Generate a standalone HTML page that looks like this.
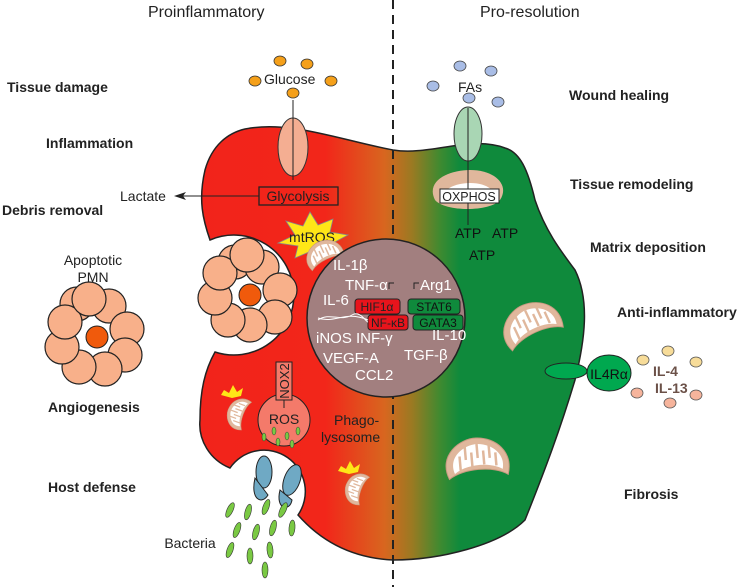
<!DOCTYPE html>
<html><head><meta charset="utf-8"><style>
html,body{margin:0;padding:0;background:#fff;}
svg{display:block;font-family:"Liberation Sans",Arial,sans-serif;}
.b{font-weight:bold;font-size:14px;fill:#222;}
.w{fill:#fff;font-size:15px;}
</style></head><body>
<svg width="754" height="587" viewBox="0 0 754 587" xmlns="http://www.w3.org/2000/svg">
<defs>
<linearGradient id="g" x1="0" x2="1" y1="0" y2="0" gradientUnits="userSpaceOnUse" x1a="0">
</linearGradient>
<linearGradient id="cg" gradientUnits="userSpaceOnUse" x1="195" y1="0" x2="590" y2="0">
<stop offset="0" stop-color="#f2231b"/>
<stop offset="0.33" stop-color="#f2261a"/>
<stop offset="0.48" stop-color="#d8661f"/>
<stop offset="0.55" stop-color="#9a7a22"/>
<stop offset="0.62" stop-color="#3f8a30"/>
<stop offset="0.67" stop-color="#0f8a3c"/>
<stop offset="1" stop-color="#0f8a3c"/>
</linearGradient>
<g id="mito">
<path d="M4,40 C-6,15 18,0 34,1 C54,2 70,18 63,40 C50,30 18,30 4,40Z" fill="#e0b79c" stroke="#c89a80" stroke-width="1"/>
<path d="M10,35 C4,17 22,7 34,7 C50,8 62,20 58,34 C46,26 22,26 10,35Z" fill="#fff"/>
<g stroke="#e0b79c" stroke-width="2.5">
<line x1="16" y1="32" x2="16" y2="18"/><line x1="22" y1="8" x2="22" y2="22"/>
<line x1="28" y1="29" x2="28" y2="15"/><line x1="34" y1="7" x2="34" y2="21"/>
<line x1="40" y1="28" x2="40" y2="14"/><line x1="46" y1="9" x2="46" y2="22"/>
<line x1="52" y1="30" x2="52" y2="17"/>
</g>
</g>
<g id="cell">
<circle r="17" fill="#f8b08a" stroke="#222" stroke-width="1.2"/>
</g>
</defs>

<!-- headers -->
<text x="148" y="17" font-size="16" fill="#222">Proinflammatory</text>
<text x="480" y="17" font-size="16" fill="#222">Pro-resolution</text>

<!-- left labels -->
<text class="b" x="7" y="92">Tissue damage</text>
<text class="b" x="46" y="148">Inflammation</text>
<text class="b" x="2" y="215">Debris removal</text>
<text class="b" x="48" y="412">Angiogenesis</text>
<text class="b" x="48" y="492">Host defense</text>
<text x="93" y="265" font-size="14" fill="#222" text-anchor="middle">Apoptotic</text>
<text x="93" y="282" font-size="14" fill="#222" text-anchor="middle">PMN</text>
<text x="190" y="548" font-size="14" fill="#222" text-anchor="middle">Bacteria</text>

<!-- right labels -->
<text class="b" x="569" y="100">Wound healing</text>
<text class="b" x="570" y="189">Tissue remodeling</text>
<text class="b" x="590" y="252">Matrix deposition</text>
<text class="b" x="617" y="317">Anti-inflammatory</text>
<text class="b" x="624" y="499">Fibrosis</text>

<!-- cell body -->
<path d="M245,129 C290,120 340,140 393,150 C430,156 470,135 505,148 C520,152 528,170 535,200 C545,230 560,250 575,270 C590,300 585,340 575,380 C560,430 545,470 525,520 C500,545 440,560 393,560 C350,558 320,540 298,515 A36,36 0 0 0 230,468 C210,460 198,440 200,420 C200,390 205,370 215,352 A60,60 0 1 0 210,240 C203,220 198,200 205,170 C212,145 228,133 245,129Z" fill="url(#cg)" stroke="#222" stroke-width="1.5"/>

<!-- dashed line -->
<line x1="393" y1="0" x2="393" y2="587" stroke="#222" stroke-width="2" stroke-dasharray="9,6"/>

<!-- apoptotic PMN outside -->
<g transform="translate(97,337)">
<use href="#cell" x="-20" y="-33"/><use href="#cell" x="12" y="-31"/><use href="#cell" x="30" y="-8"/>
<use href="#cell" x="28" y="18"/><use href="#cell" x="8" y="32"/><use href="#cell" x="-18" y="30"/>
<use href="#cell" x="-35" y="10"/><use href="#cell" x="-32" y="-15"/><use href="#cell" x="-8" y="-38"/>
<circle r="11" fill="#f05a0c" stroke="#222"/>
</g>
<!-- engulfed PMN -->
<g transform="translate(250,295)">
<use href="#cell" x="-15" y="-33"/><use href="#cell" x="12" y="-28"/><use href="#cell" x="30" y="-5"/>
<use href="#cell" x="25" y="22"/><use href="#cell" x="0" y="30"/><use href="#cell" x="-22" y="25"/>
<use href="#cell" x="-35" y="3"/><use href="#cell" x="-30" y="-22"/><use href="#cell" x="-3" y="-40"/>
<circle r="11" fill="#f05a0c" stroke="#222"/>
</g>

<!-- glucose -->
<g fill="#f5a01a" stroke="#333" stroke-width="0.8">
<ellipse cx="280" cy="61" rx="6" ry="5"/><ellipse cx="255" cy="81" rx="6" ry="5"/>
<ellipse cx="293" cy="93" rx="6" ry="5"/><ellipse cx="307" cy="64" rx="6" ry="5"/>
<ellipse cx="331" cy="81" rx="6" ry="5"/>
</g>
<text x="264" y="84" font-size="14" fill="#222">Glucose</text>
<line x1="293" y1="100" x2="293" y2="180" stroke="#222"/>
<ellipse cx="293" cy="147" rx="15" ry="29" fill="#f4ae92" stroke="#333"/>
<line x1="293" y1="100" x2="293" y2="180" stroke="#222"/>
<rect x="259" y="187" width="79" height="18" fill="none" stroke="#222" stroke-width="1.3"/>
<text x="298" y="201" font-size="14" fill="#222" text-anchor="middle">Glycolysis</text>
<line x1="259" y1="196" x2="180" y2="196" stroke="#222"/>
<path d="M174,196 L186,192 L183,196 L186,200Z" fill="#222"/>
<text x="120" y="201" font-size="14" fill="#222">Lactate</text>

<!-- mtROS star -->
<polygon points="310,212 318,225 333,219 330,232 348,235 333,243 342,254 325,250 318,262 309,252 295,258 298,246 278,243 295,235 286,221 303,226" fill="#ffe617" stroke="#888" stroke-width="0.8"/>
<text x="312" y="242" font-size="14" fill="#222" text-anchor="middle">mtROS</text>
<use href="#mito" transform="translate(300,250) rotate(-25) scale(0.6)"/>

<!-- FAs -->
<g fill="#a9bde6" stroke="#444" stroke-width="0.8">
<ellipse cx="460" cy="66" rx="6" ry="5"/><ellipse cx="491" cy="71" rx="6" ry="5"/>
<ellipse cx="433" cy="86" rx="6" ry="5"/><ellipse cx="469" cy="98" rx="6" ry="5"/>
<ellipse cx="498" cy="102" rx="6" ry="5"/><ellipse cx="421" cy="67" rx="0" ry="0"/>
</g>
<text x="458" y="92" font-size="14" fill="#222">FAs</text>
<ellipse cx="468" cy="134" rx="14" ry="27" fill="#a9d6b4" stroke="#333"/>
<path d="M435,200 C425,180 450,170 470,170 C495,170 510,185 500,200 C490,212 445,212 435,200Z" fill="#e0b79c"/>
<path d="M443,200 C440,190 455,183 470,183 C488,183 498,192 493,200Z" fill="#fff"/>
<line x1="468" y1="108" x2="468" y2="225" stroke="#222"/>
<rect x="440" y="189" width="59" height="14" fill="#fff" stroke="#222"/>
<text x="469" y="201" font-size="12.5" fill="#222" text-anchor="middle">OXPHOS</text>
<text x="455" y="238" font-size="14" fill="#111">ATP</text>
<text x="492" y="238" font-size="14" fill="#111">ATP</text>
<text x="469" y="260" font-size="14" fill="#111">ATP</text>

<!-- nucleus -->
<circle cx="386" cy="318" r="79" fill="#a27f7f" stroke="#222" stroke-width="1.5"/>
<text class="w" x="333" y="270">IL-1β</text>
<text class="w" x="345" y="290">TNF-α</text>
<text class="w" x="323" y="305">IL-6</text>
<text class="w" x="420" y="290">Arg1</text>
<path d="M389,289 v-6 h5" stroke="#222" fill="none"/>
<path d="M414,289 v-6 h5" stroke="#222" fill="none"/>
<rect x="355" y="299" width="45" height="15" rx="3" fill="#e8141c" stroke="#222"/>
<text x="377" y="311" font-size="12" fill="#222" text-anchor="middle">HIF1α</text>
<rect x="368" y="315" width="40" height="15" rx="3" fill="#e8141c" stroke="#222"/>
<text x="388" y="327" font-size="12" fill="#222" text-anchor="middle">NF-κB</text>
<rect x="408" y="299" width="52" height="15" rx="3" fill="#0f8a3c" stroke="#222"/>
<text x="434" y="311" font-size="12" fill="#111" text-anchor="middle">STAT6</text>
<rect x="413" y="315" width="50" height="15" rx="3" fill="#0f8a3c" stroke="#222"/>
<text x="438" y="327" font-size="12" fill="#111" text-anchor="middle">GATA3</text>
<path d="M318,320 C330,312 340,322 352,315 C360,310 366,322 368,322 M318,318 C335,324 345,310 368,320" stroke="#fff" fill="none" stroke-width="1"/>
<text class="w" x="316" y="343">iNOS</text>
<text class="w" x="356" y="343">INF-γ</text>
<text class="w" x="432" y="340">IL-10</text>
<text class="w" x="323" y="363">VEGF-A</text>
<text class="w" x="404" y="360">TGF-β</text>
<text class="w" x="355" y="380">CCL2</text>

<!-- NOX2 / ROS -->
<circle cx="284" cy="420" r="26" fill="#f47a6a" stroke="#222"/>
<rect x="276" y="362" width="16" height="38" fill="#f47a6a" stroke="#222"/>
<text x="0" y="0" font-size="13" fill="#222" transform="translate(289,381) rotate(-90)" text-anchor="middle">NOX2</text>
<line x1="284" y1="400" x2="284" y2="408" stroke="#222"/>
<text x="284" y="424" font-size="14" fill="#222" text-anchor="middle">ROS</text>
<g fill="#7ac943" stroke="#333" stroke-width="0.5">
<ellipse cx="274" cy="431" rx="2" ry="4"/><ellipse cx="287" cy="436" rx="2" ry="4"/><ellipse cx="298" cy="431" rx="2" ry="4"/>
<ellipse cx="264" cy="437" rx="2" ry="4"/><ellipse cx="278" cy="442" rx="2" ry="4"/><ellipse cx="292" cy="444" rx="2" ry="4"/>
</g>
<text x="334" y="425" font-size="14" fill="#222">Phago-</text>
<text x="321" y="442" font-size="14" fill="#222">lysosome</text>

<!-- damaged mitos -->
<polygon points="229,393 233,385 237,392 243,388 241,396 232,398 221,395 224,390" fill="#ffe617"/>
<use href="#mito" transform="translate(222,425) rotate(-70) scale(0.5)"/>
<polygon points="346,469 350,461 354,468 360,464 358,472 349,474 338,471 341,466" fill="#ffe617"/>
<use href="#mito" transform="translate(340,500) rotate(-70) scale(0.5)"/>

<!-- green mitos -->
<use href="#mito" transform="translate(493,318) rotate(-25) scale(0.95)"/>
<use href="#mito" transform="translate(442,440) rotate(-5) scale(1.0)"/>

<!-- bacteria receptors -->
<g fill="#6fa9c4" stroke="#222" stroke-width="1">
<ellipse cx="264" cy="472" rx="8" ry="16"/><path d="M255,478 C250,500 262,505 268,495 Z"/>
<ellipse cx="292" cy="480" rx="8" ry="16" transform="rotate(20 292 480)"/><path d="M280,490 C275,510 290,512 292,500 Z"/>
</g>
<g fill="#7ac943" stroke="#333" stroke-width="0.6">
<ellipse cx="230" cy="510" rx="3" ry="8" transform="rotate(25 230 510)"/>
<ellipse cx="248" cy="512" rx="3" ry="8" transform="rotate(15 248 512)"/>
<ellipse cx="266" cy="507" rx="3" ry="8" transform="rotate(20 266 507)"/>
<ellipse cx="283" cy="510" rx="3" ry="8" transform="rotate(25 283 510)"/>
<ellipse cx="237" cy="530" rx="3" ry="8" transform="rotate(20 237 530)"/>
<ellipse cx="256" cy="532" rx="3" ry="8" transform="rotate(15 256 532)"/>
<ellipse cx="273" cy="528" rx="3" ry="8" transform="rotate(15 273 528)"/>
<ellipse cx="292" cy="528" rx="3" ry="8" transform="rotate(5 292 528)"/>
<ellipse cx="230" cy="550" rx="3" ry="8" transform="rotate(20 230 550)"/>
<ellipse cx="250" cy="556" rx="3" ry="8"/>
<ellipse cx="270" cy="550" rx="3" ry="8" transform="rotate(-5 270 550)"/>
<ellipse cx="265" cy="570" rx="3" ry="8"/>
</g>

<!-- IL4Ra -->
<ellipse cx="566" cy="371" rx="21" ry="8" fill="#00a84f" stroke="#222"/>
<ellipse cx="609" cy="373" rx="22" ry="18" fill="#00a84f" stroke="#222"/>
<text x="609" y="379" font-size="14" fill="#111" text-anchor="middle">IL4Rα</text>
<g stroke="#555" stroke-width="0.8">
<ellipse cx="643" cy="360" rx="6" ry="5" fill="#f7dc99"/><ellipse cx="668" cy="351" rx="6" ry="5" fill="#f7dc99"/><ellipse cx="696" cy="362" rx="6" ry="5" fill="#f7dc99"/>
<ellipse cx="637" cy="393" rx="6" ry="5" fill="#f6b49c"/><ellipse cx="670" cy="403" rx="6" ry="5" fill="#f6b49c"/><ellipse cx="696" cy="395" rx="6" ry="5" fill="#f6b49c"/>
</g>
<text x="653" y="376" font-size="14" fill="#6b5148" font-weight="bold">IL-4</text>
<text x="655" y="393" font-size="14" fill="#6b5148" font-weight="bold">IL-13</text>
</svg>
</body></html>
